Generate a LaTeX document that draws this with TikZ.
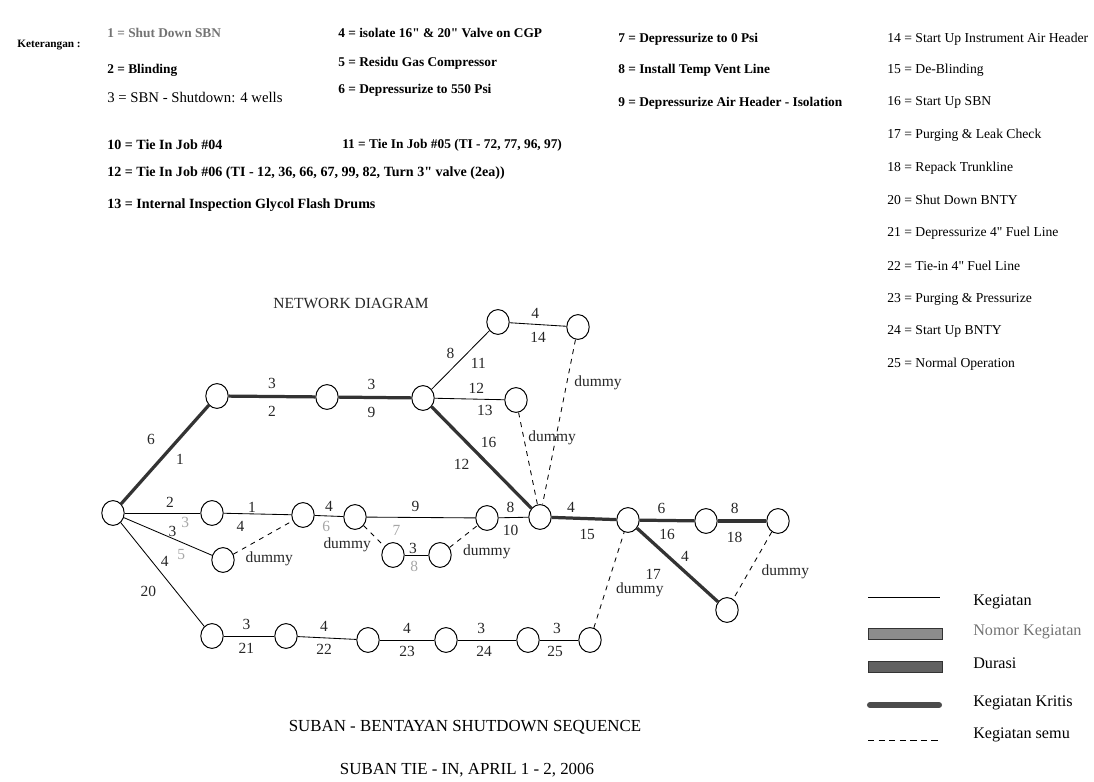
\documentclass[tikz,border=0pt]{standalone}
\usepackage{fontspec}
\setmainfont{Liberation Serif}
\usetikzlibrary{shapes.geometric}

\begin{document}
\begin{tikzpicture}[x=0.025cm, y=-0.025cm,
  ev/.style={ellipse, draw, line width=0.7pt, minimum width=0.56cm,
    minimum height=0.62cm, inner sep=0pt},
  kerja/.style={draw, line width=0.6pt},
  kritis/.style={draw=black!80, line width=2.3pt},
  semu/.style={draw, line width=0.6pt, dash pattern=on 3.5pt off 3.5pt},
  lbl/.style={font=\fontsize{11}{12}\selectfont, inner sep=1pt, text=black!85},
  pudar/.style={lbl, text=black!35},
  dum/.style={lbl, anchor=west},
  ket/.style={anchor=west, inner sep=0pt, font=\fontsize{9.5}{11}\selectfont\bfseries},
  ketb/.style={anchor=west, inner sep=0pt, font=\fontsize{9.7}{11}\selectfont},
  leg/.style={anchor=west, inner sep=0pt, font=\fontsize{11.5}{13}\selectfont}
]
  \useasboundingbox (0,0) rectangle (1094,782);

  % Keterangan
  \node[ket, font=\fontsize{8}{10}\selectfont\bfseries] (ket) at (17,45) {Keterangan :};
  \node[ket, text=black!55] (k1) at (107,33) {1 = Shut Down SBN};
  \node[ket] (k2) at (107,70) {2 = Blinding};
  \node[ket, font=\fontsize{10.5}{12}\selectfont] (k3) at (107,97) {3 = SBN - Shutdown: 4 wells};
  \node[ket, font=\fontsize{10}{11}\selectfont\bfseries] (k10) at (107,145) {10 = Tie In Job \#04};
  \node[ket, font=\fontsize{10}{11}\selectfont\bfseries] (k12) at (107,173) {12 = Tie In Job \#06 (TI - 12, 36, 66, 67, 99, 82, Turn 3\textquotedbl{} valve (2ea))};
  \node[ket, font=\fontsize{10}{11}\selectfont\bfseries] (k13) at (107,205) {13 = Internal Inspection Glycol Flash Drums};
  \node[ket] (k4) at (338,33) {4 = isolate 16\textquotedbl{} \& 20\textquotedbl{} Valve on CGP};
  \node[ket] (k5) at (338,63) {5 = Residu Gas Compressor};
  \node[ket] (k6) at (338,90) {6 = Depressurize to 550 Psi};
  \node[ket] (k11) at (342,145) {11 = Tie In Job \#05 (TI - 72, 77, 96, 97)};
  \node[ket] (k7) at (618,39) {7 = Depressurize to 0 Psi};
  \node[ket] (k8) at (618,70) {8 = Install Temp Vent Line};
  \node[ket] (k9) at (618,103) {9 = Depressurize Air Header - Isolation};
  \node[ketb] (k14) at (887,39) {14 = Start Up Instrument Air Header};
  \node[ketb] (k15) at (887,70) {15 = De-Blinding};
  \node[ketb] (k16) at (887,102) {16 = Start Up SBN};
  \node[ketb] (k17) at (887,135) {17 = Purging \& Leak Check};
  \node[ketb] (k18) at (887,168) {18 = Repack Trunkline};
  \node[ketb] (k20) at (887,200) {20 = Shut Down BNTY};
  \node[ketb] (k21) at (887,233) {21 = Depressurize 4\textquotedbl{} Fuel Line};
  \node[ketb] (k22) at (887,266) {22 = Tie-in 4\textquotedbl{} Fuel Line};
  \node[ketb] (k23) at (887,299) {23 = Purging \& Pressurize};
  \node[ketb] (k24) at (887,331) {24 = Start Up BNTY};
  \node[ketb] (k25) at (887,364) {25 = Normal Operation};

  \node[lbl, font=\fontsize{11}{12}\selectfont] (judul) at (351,303) {NETWORK DIAGRAM};

  % events
  \node[ev] (n0) at (113,513) {};
  \node[ev] (n1) at (217,396) {};
  \node[ev] (n2) at (327,397) {};
  \node[ev] (n3) at (423,398) {};
  \node[ev] (n4) at (498,322) {};
  \node[ev] (n5) at (578,327) {};
  \node[ev] (n6) at (516,400) {};
  \node[ev] (n7) at (540,517) {};
  \node[ev] (n8) at (628,520) {};
  \node[ev] (n9) at (706,521) {};
  \node[ev] (n10) at (778,521) {};
  \node[ev] (n11) at (727,610) {};
  \node[ev] (m1) at (212,513) {};
  \node[ev] (m2) at (303,515) {};
  \node[ev] (m3) at (355,517) {};
  \node[ev] (m4) at (487,518) {};
  \node[ev] (l1) at (223,560) {};
  \node[ev] (l2) at (393,555) {};
  \node[ev] (l3) at (440,555) {};
  \node[ev] (b0) at (212,636) {};
  \node[ev] (b1) at (286,636) {};
  \node[ev] (b2) at (368,640) {};
  \node[ev] (b3) at (446,640) {};
  \node[ev] (b4) at (528,640) {};
  \node[ev] (b5) at (590,640) {};

  % critical path
  \draw[kritis] (n0) -- node[lbl, pos=0.5, above left=5pt] {6} node[lbl, pos=0.56, below right=2pt] {1} (n1);
  \draw[kritis] (n1) -- node[lbl, above=3.5pt] {3} node[lbl, below=5pt] {2} (n2);
  \draw[kritis] (n2) -- node[lbl, pos=0.45, above=3.5pt] {3} node[lbl, pos=0.45, below=5pt] {9} (n3);
  \draw[kritis] (n3) -- node[lbl, pos=0.45, above right=1pt] {16} node[lbl, pos=0.45, below left=3pt] {12} (n7);
  \draw[kritis] (n7) -- node[lbl, pos=0.3, above=2pt] {4} node[lbl, pos=0.55, below=5.5pt] {15} (n8);
  \draw[kritis] (n8) -- node[lbl, pos=0.4, above=3pt] {6} node[lbl, pos=0.5, below=4pt] {16} (n9);
  \draw[kritis] (n9) -- node[lbl, pos=0.35, above=3pt] {8} node[lbl, pos=0.35, below=6pt] {18} (n10);
  \draw[kritis] (n8) -- node[lbl, pos=0.5, above right=0.5pt] {4} node[lbl, pos=0.42, below left=5pt] {17} (n11);

  % activities
  \draw[kerja] (n3) -- node[lbl, pos=0.46, above left=1.5pt] {8} node[lbl, pos=0.6, below right=2pt] {11} (n4);
  \draw[kerja] (n4) -- node[lbl, pos=0.45, above=3pt] {4} node[lbl, pos=0.5, below=4pt] {14} (n5);
  \draw[kerja] (n3) -- node[lbl, pos=0.6, above=2.5pt] {12} node[lbl, pos=0.72, below=3pt] {13} (n6);
  \draw[kerja] (n0) -- node[lbl, pos=0.6, above=2.5pt] {2} node[pudar, pos=0.8, below=2pt] {3} (m1);
  \draw[kerja] (n0) -- node[lbl, pos=0.55, above=0pt] {3} node[pudar, pos=0.65, below=4pt] {5} (l1);
  \draw[kerja] (n0) -- node[lbl, pos=0.45, above right=0.5pt] {4} node[lbl, pos=0.53, below left=5pt] {20} (b0);
  \draw[kerja] (m1) -- node[lbl, pos=0.42, above=0pt] {1} node[lbl, pos=0.25, below=4pt] {4} (m2);
  \draw[kerja] (m2) -- node[lbl, above=2pt] {4} node[pudar, pos=0.4, below=2.5pt] {6} (m3);
  \draw[kerja] (m3) -- node[lbl, pos=0.45, above=2.5pt] {9} (m4);
  \draw[kerja] (m4) -- node[lbl, pos=0.4, above=2pt] {8} node[lbl, pos=0.4, below=4pt] {10} (n7);
  \draw[kerja] (l2) -- node[lbl, pos=0.35, above=0pt] {3} node[pudar, pos=0.4, below=3pt] {8} (l3);
  \draw[kerja] (b0) -- node[lbl, pos=0.45, above=3.5pt] {3} node[lbl, pos=0.45, below=4pt] {21} (b1);
  \draw[kerja] (b1) -- node[lbl, pos=0.45, above=3.5pt] {4} node[lbl, pos=0.45, below=3.5pt] {22} (b2);
  \draw[kerja] (b2) -- node[lbl, above=3.5pt] {4} node[lbl, below=3.5pt] {23} (b3);
  \draw[kerja] (b3) -- node[lbl, pos=0.4, above=3.5pt] {3} node[lbl, pos=0.45, below=3.5pt] {24} (b4);
  \draw[kerja] (b4) -- node[lbl, pos=0.45, above=3pt] {3} node[lbl, pos=0.4, below=3pt] {25} (b5);

  % dummies
  \draw[semu] (n5) -- node[dum, pos=0.26, xshift=4pt] {dummy} (n7);
  \draw[semu] (n6) -- node[dum, pos=0.28, xshift=2pt] {dummy} (n7);
  \draw[semu] (l1) -- node[dum, pos=0.2, xshift=-1pt, yshift=-8pt] {dummy} (m2);
  \draw[semu] (m3) -- node[lbl, pos=0.5, anchor=east, xshift=-1pt, yshift=-6.5pt] {dummy}
    node[pudar, pos=0.5, xshift=16pt, yshift=4pt] {7} (l2);
  \draw[semu] (l3) -- node[dum, pos=0.5, xshift=-1.5pt, yshift=-11pt] {dummy} (m4);
  \draw[semu] (b5) -- node[dum, pos=0.4, xshift=6pt] {dummy} (n8);
  \draw[semu] (n10) -- node[dum, pos=0.6, xshift=8pt] {dummy} (n11);

  % legenda
  \coordinate (la1) at (868,597); \coordinate (la2) at (940,597);
  \draw[kerja] (la1) -- (la2);
  \node[leg] (ta) at (973,602) {Kegiatan};
  \node[draw=black!80, fill=black!45, minimum width=1.85cm, minimum height=0.27cm, inner sep=0pt] (lb) at (905,634) {};
  \node[leg, text=black!55] (tb) at (973,632) {Nomor Kegiatan};
  \node[draw=black!80, fill=black!62, minimum width=1.85cm, minimum height=0.27cm, inner sep=0pt] (lc) at (905,667) {};
  \node[leg] (tc) at (973,663) {Durasi};
  \coordinate (ld1) at (870,705); \coordinate (ld2) at (939,705);
  \draw[draw=black!70, line width=4.3pt, line cap=round] (ld1) -- (ld2);
  \node[leg] (td) at (973,703) {Kegiatan Kritis};
  \coordinate (le1) at (868,740); \coordinate (le2) at (940,740);
  \draw[kerja, dash pattern=on 4.5pt off 3pt] (le1) -- (le2);
  \node[leg] (te) at (973,735) {Kegiatan semu};

  % titles
  \node[font=\fontsize{12}{14}\selectfont] (t1) at (465,727) {SUBAN - BENTAYAN SHUTDOWN SEQUENCE};
  \node[font=\fontsize{12}{14}\selectfont] (t2) at (467,770) {SUBAN TIE - IN, APRIL 1 - 2, 2006};
\end{tikzpicture}
\end{document}
